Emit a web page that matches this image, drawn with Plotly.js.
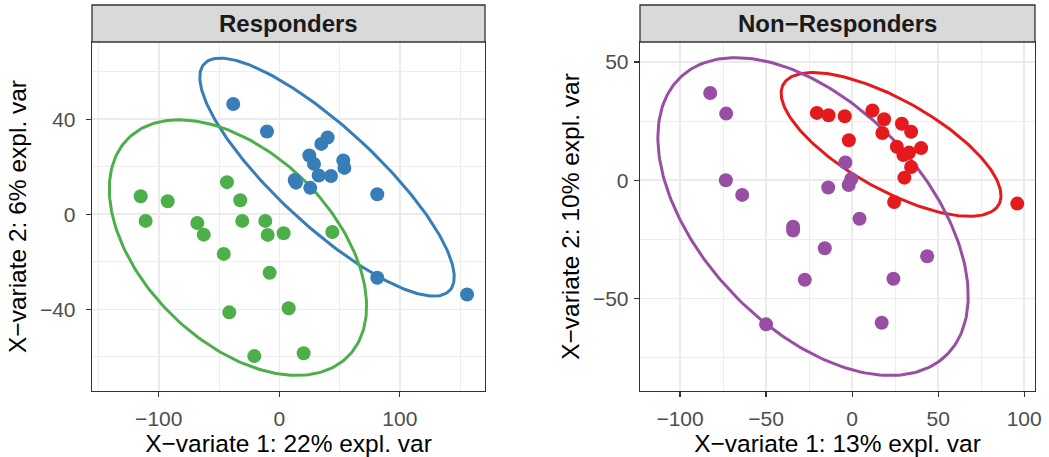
<!DOCTYPE html>
<html>
<head>
<meta charset="utf-8">
<script src="https://cdn.plot.ly/plotly-3.0.1.min.js"></script>
<style>
  html, body { margin: 0; padding: 0; background: #ffffff; }
  #chart { width: 1049px; height: 457px; }
</style>
</head>
<body>
<div id="chart"></div>
<script>
// ---------- Data ----------
// Panel titles
const panelTitles = ["Responders", "Non\u2212Responders"];
const xTitles = ["X\u2212variate 1: 22% expl. var", "X\u2212variate 1: 13% expl. var"];
const yTitles = ["X\u2212variate 2: 6% expl. var", "X\u2212variate 2: 10% expl. var"];

// Responders panel – blue group
const respBlueX = [-38.2, -10.2, 40.1, 34.9, 24.9, 28.8, 53.1, 54.0, 32.7, 42.9, 12.8, 13.9, 25.7, 81.3, 81.3, 155.8];
const respBlueY = [46.4, 34.8, 32.3, 29.6, 24.7, 21.2, 22.6, 19.5, 16.3, 16.1, 14.4, 13.3, 11.1, 8.4, -26.7, -33.8];

// Responders panel – green group
const respGreenX = [-115.0, -92.6, -110.9, -43.4, -32.4, -68.0, -62.7, -30.7, -11.6, -9.6, 3.6, 44.0, -46.1, -8.0, -41.5, 7.8, -20.7, 20.2];
const respGreenY = [7.6, 5.5, -2.8, 13.5, 5.9, -3.7, -8.6, -2.8, -2.8, -8.7, -8.0, -7.5, -16.7, -24.6, -41.3, -39.6, -59.7, -58.5];

// Non-Responders panel – red group
const nonRedX = [-20.5, -13.7, -4.3, 11.8, 18.6, 28.9, 34.3, 17.6, -1.9, 26.0, 40.1, 33.1, 29.8, 34.3, 30.4, 24.4, 96.0];
const nonRedY = [28.5, 27.5, 27.1, 29.5, 25.8, 23.9, 20.5, 20.0, 16.9, 14.2, 13.6, 11.7, 10.7, 5.6, 1.1, -9.2, -9.9];

// Non-Responders panel – purple group
const nonPurpleX = [-82.5, -73.2, -73.4, -63.9, -3.9, -0.5, -2.0, -13.9, 4.3, -34.3, -34.3, -15.9, 43.6, -27.5, 24.0, -50.0, 17.2];
const nonPurpleY = [36.9, 28.2, 0.0, -6.2, 7.5, 0.5, -2.0, -3.1, -16.3, -19.7, -21.3, -28.8, -32.2, -42.1, -41.7, -61.0, -60.3];

// Tick values
const leftXTicks = [-100, 0, 100];
const leftYTicks = [-40, 0, 40];
const rightXTicks = [-100, -50, 0, 50, 100];
const rightYTicks = [-50, 0, 50];

// ---------- Styling ----------
const COL_BLUE = "#377EB8", COL_GREEN = "#4DAF4A", COL_RED = "#E41A1C", COL_PURPLE = "#984EA3";
const FONT = "Liberation Sans, Arial, Helvetica, sans-serif";

// 95% confidence ellipse computed from the group's points (as ellipse::ellipse does)
function confEllipse(xs, ys, level, npts) {
  const n = xs.length;
  const mx = xs.reduce((a, b) => a + b, 0) / n;
  const my = ys.reduce((a, b) => a + b, 0) / n;
  let sxx = 0, syy = 0, sxy = 0;
  for (let i = 0; i < n; i++) {
    sxx += (xs[i] - mx) ** 2;
    syy += (ys[i] - my) ** 2;
    sxy += (xs[i] - mx) * (ys[i] - my);
  }
  sxx /= (n - 1); syy /= (n - 1); sxy /= (n - 1);
  const sx = Math.sqrt(sxx), sy = Math.sqrt(syy);
  const r = sxy / (sx * sy);
  const t = Math.sqrt(-2 * Math.log(1 - level)); // sqrt(qchisq(level, 2))
  const d = Math.acos(r);
  const ex = [], ey = [];
  for (let k = 0; k <= npts; k++) {
    const a = 2 * Math.PI * k / npts;
    ex.push(mx + t * sx * Math.cos(a + d / 2));
    ey.push(my + t * sy * Math.cos(a - d / 2));
  }
  return { x: ex, y: ey };
}

function ellipseTrace(xs, ys, color, xa, ya) {
  const e = confEllipse(xs, ys, 0.95, 240);
  return { type: "scatter", mode: "lines", x: e.x, y: e.y, xaxis: xa, yaxis: ya,
           line: { color: color, width: 3 }, hoverinfo: "skip", showlegend: false };
}
function pointTrace(xs, ys, color, xa, ya) {
  return { type: "scatter", mode: "markers", x: xs, y: ys, xaxis: xa, yaxis: ya,
           marker: { color: color, size: 14, line: { width: 0 } }, showlegend: false };
}

const data = [
  ellipseTrace(respBlueX, respBlueY, COL_BLUE, "x", "y"),
  ellipseTrace(respGreenX, respGreenY, COL_GREEN, "x", "y"),
  pointTrace(respBlueX, respBlueY, COL_BLUE, "x", "y"),
  pointTrace(respGreenX, respGreenY, COL_GREEN, "x", "y"),
  ellipseTrace(nonRedX, nonRedY, COL_RED, "x2", "y2"),
  ellipseTrace(nonPurpleX, nonPurpleY, COL_PURPLE, "x2", "y2"),
  pointTrace(nonPurpleX, nonPurpleY, COL_PURPLE, "x2", "y2"),
  pointTrace(nonRedX, nonRedY, COL_RED, "x2", "y2")
];

const W = 1049, H = 457;
const px = v => v / W;
const py = v => 1 - v / H;

function axisBase(extra) {
  return Object.assign({
    showgrid: true, gridcolor: "#EBEBEB", gridwidth: 1.5,
    zeroline: false,
    showline: true, linecolor: "#333333", linewidth: 1.3, mirror: true,
    ticks: "outside", ticklen: 5, tickwidth: 1.2, tickcolor: "#333333",
    tickfont: { family: FONT, size: 21, color: "#4D4D4D" },
    fixedrange: true
  }, extra);
}

const L = { x0: 92, x1: 485 }, R = { x0: 640, x1: 1035 };
const plotTop = 42, plotBot = 391, stripTop = 5;
const TITLE_FONT = { family: FONT, size: 24.5, color: "#000000" };

const layout = {
  width: W, height: H,
  margin: { l: 0, r: 0, t: 0, b: 0 },
  paper_bgcolor: "#ffffff", plot_bgcolor: "#ffffff",
  font: { family: FONT },
  showlegend: false,
  xaxis: axisBase({
    domain: [px(L.x0), px(L.x1)], range: [-155.4, 170.7], anchor: "y",
    tickvals: leftXTicks, ticklabelstandoff: 3,
    minor: { tick0: -150, dtick: 50, showgrid: true, gridcolor: "#EBEBEB", gridwidth: 0.9, ticks: "" },
    title: { text: xTitles[0], font: TITLE_FONT, standoff: 2 }
  }),
  yaxis: axisBase({
    domain: [py(plotBot), py(plotTop)], range: [-74.4, 72.5], anchor: "x",
    tickvals: leftYTicks, ticklabelstandoff: 6,
    minor: { tick0: -60, dtick: 20, showgrid: true, gridcolor: "#EBEBEB", gridwidth: 0.9, ticks: "" },
    title: { text: yTitles[0], font: TITLE_FONT, standoff: 6 }
  }),
  xaxis2: axisBase({
    domain: [px(R.x0), px(R.x1)], range: [-123.3, 106.3], anchor: "y2",
    tickvals: rightXTicks, ticklabelstandoff: 3,
    minor: { tick0: -125, dtick: 25, showgrid: true, gridcolor: "#EBEBEB", gridwidth: 0.9, ticks: "" },
    title: { text: xTitles[1], font: TITLE_FONT, standoff: 2 }
  }),
  yaxis2: axisBase({
    domain: [py(plotBot), py(plotTop)], range: [-89.2, 58.5], anchor: "x2",
    tickvals: rightYTicks, ticklabelstandoff: 1,
    minor: { tick0: -75, dtick: 25, showgrid: true, gridcolor: "#EBEBEB", gridwidth: 0.9, ticks: "" },
    title: { text: yTitles[1], font: TITLE_FONT, standoff: 6 }
  }),
  shapes: [
    { type: "rect", xref: "paper", yref: "paper", x0: px(L.x0), x1: px(L.x1), y0: py(plotTop), y1: py(stripTop),
      fillcolor: "#D9D9D9", line: { color: "#333333", width: 1.3 }, layer: "above" },
    { type: "rect", xref: "paper", yref: "paper", x0: px(R.x0), x1: px(R.x1), y0: py(plotTop), y1: py(stripTop),
      fillcolor: "#D9D9D9", line: { color: "#333333", width: 1.3 }, layer: "above" }
  ],
  annotations: [
    { xref: "paper", yref: "paper", x: px((L.x0 + L.x1) / 2), y: py((plotTop + stripTop) / 2),
      text: "<b>" + panelTitles[0] + "</b>", showarrow: false, xanchor: "center", yanchor: "middle",
      font: { family: FONT, size: 24, color: "#1A1A1A" } },
    { xref: "paper", yref: "paper", x: px((R.x0 + R.x1) / 2), y: py((plotTop + stripTop) / 2),
      text: "<b>" + panelTitles[1] + "</b>", showarrow: false, xanchor: "center", yanchor: "middle",
      font: { family: FONT, size: 24, color: "#1A1A1A" } }
  ]
};

Plotly.newPlot("chart", data, layout, { displayModeBar: false, staticPlot: true });
</script>
</body>
</html>
